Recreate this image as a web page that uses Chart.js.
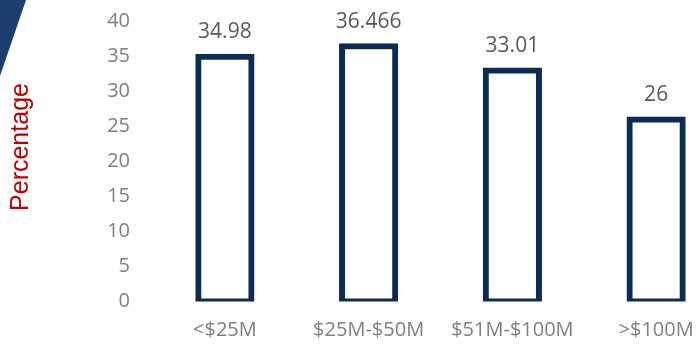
<!DOCTYPE html>
<html>
<head>
<meta charset="utf-8">
<script src="https://cdn.jsdelivr.net/npm/chart.js@4"></script>
<style>
  html, body { margin: 0; padding: 0; background: #fff; overflow: hidden; }
  #box { position: absolute; left: 0; top: 0; width: 740px; height: 346px; }
</style>
</head>
<body>
<div id="box"><canvas id="grafico"></canvas></div>
<script>
const categorias = ["<$25M", "$25M-$50M", "$51M-$100M", ">$100M"];
const valores = [34.98, 36.466, 33.01, 26];
const rotulos = ["34.98", "36.466", "33.01", "26"];
const eixoY = { min: 0, max: 40, passo: 5 };

// faixa azul no canto e titulo do eixo
const enfeites = {
    id: "enfeites",
    beforeDraw(chart) {
        const ctx = chart.ctx;
        ctx.save();
        ctx.fillStyle = "#1d3e6f";
        ctx.beginPath();
        ctx.moveTo(0, 0);
        ctx.lineTo(26, 0);
        ctx.lineTo(0, 76);
        ctx.closePath();
        ctx.fill();
        ctx.restore();
    },
    afterDraw(chart) {
        const ctx = chart.ctx;
        ctx.save();
        ctx.translate(21, 147);
        ctx.rotate(-Math.PI / 2);
        ctx.font = "25px 'Liberation Sans', Arial, sans-serif";
        ctx.fillStyle = "#c00000";
        ctx.textAlign = "center";
        ctx.textBaseline = "middle";
        ctx.fillText("Percentage", 0, 0);
        ctx.restore();
    }
};

// valores escritos acima de cada barra
const valoresBarras = {
    id: "valoresBarras",
    afterDatasetsDraw(chart) {
        const ctx = chart.ctx;
        const meta = chart.getDatasetMeta(0);
        ctx.save();
        ctx.font = "21px 'Open Sans', sans-serif";
        ctx.fillStyle = "#595959";
        ctx.textAlign = "center";
        ctx.textBaseline = "alphabetic";
        meta.data.forEach((barra, i) => {
            ctx.fillText(rotulos[i], barra.x, barra.y - 18.5);
        });
        ctx.restore();
    }
};

new Chart(document.getElementById("grafico"), {
    type: "bar",
    data: {
        labels: categorias,
        datasets: [{
            data: valores,
            backgroundColor: "#ffffff",
            borderColor: "#0b2d55",
            borderWidth: 6,
            borderSkipped: false,
            inflateAmount: 3,
            barPercentage: 0.37,
            categoryPercentage: 1
        }]
    },
    options: {
        responsive: true,
        maintainAspectRatio: false,
        animation: false,
        layout: { padding: { top: 21.5, right: 12, bottom: 0, left: 0 } },
        plugins: {
            legend: { display: false },
            tooltip: { enabled: false }
        },
        scales: {
            x: {
                grid: { display: false, drawTicks: false },
                border: { display: false },
                ticks: {
                    color: "#7f7f7f",
                    font: { family: "'Open Sans', sans-serif", size: 20 },
                    padding: 17,
                    maxRotation: 0,
                    autoSkip: false
                },
                afterFit(scale) { scale.height = 44.5; }
            },
            y: {
                min: eixoY.min,
                max: eixoY.max,
                grid: { display: false, drawTicks: false },
                border: { display: false },
                ticks: {
                    stepSize: eixoY.passo,
                    color: "#7f7f7f",
                    font: { family: "'Open Sans', sans-serif", size: 20 },
                    padding: 23
                },
                afterFit(scale) {
                    scale.width = 153;
                    scale.paddingTop = 0;
                    scale.paddingBottom = 0;
                }
            }
        }
    },
    plugins: [enfeites, valoresBarras]
});
</script>
</body>
</html>
